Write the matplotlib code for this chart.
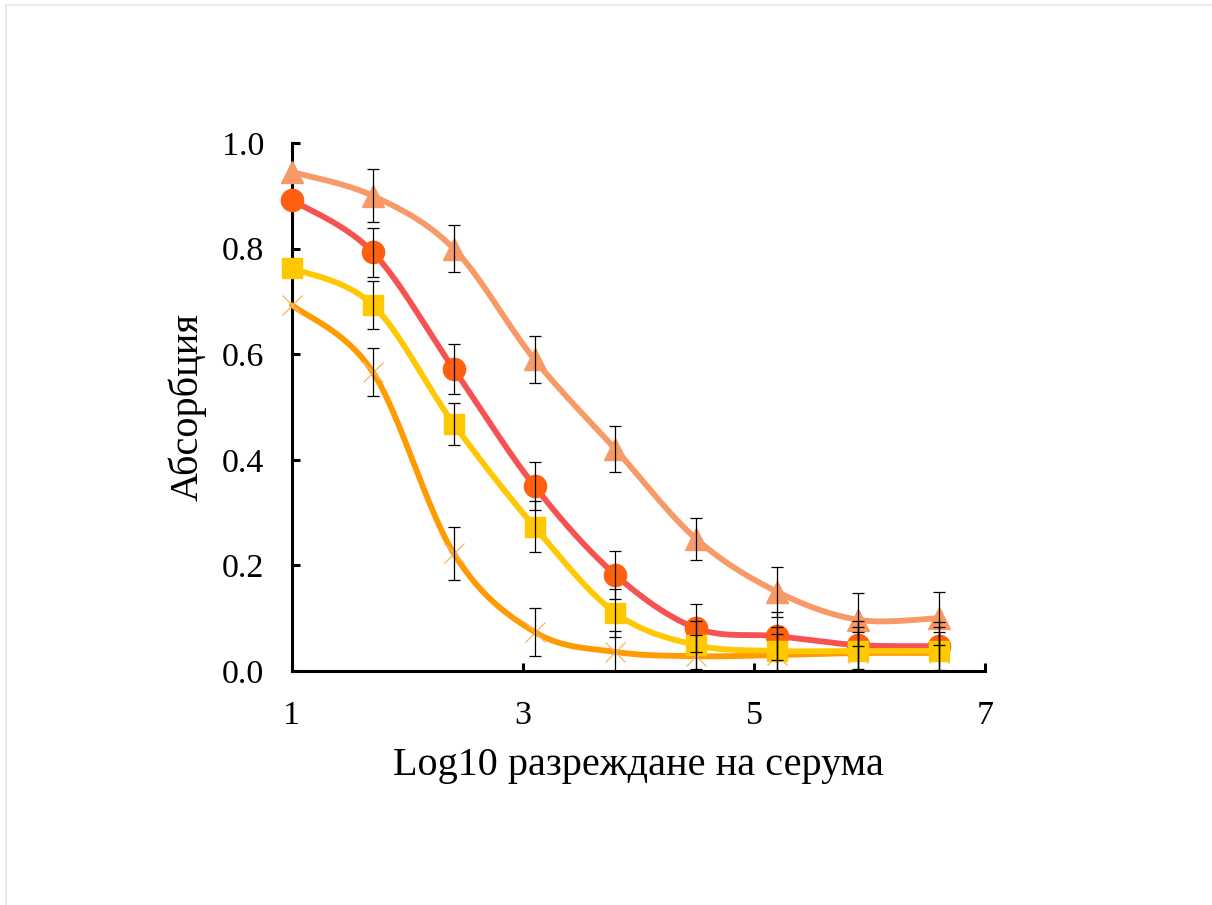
import numpy as np
import matplotlib.pyplot as plt
from matplotlib.lines import Line2D

plt.rcParams['font.family'] = ['Liberation Serif', 'DejaVu Serif']

# log10 of serum dilution (5-fold steps starting at 1:10)
log_dil = [1.0, 1.7, 2.4, 3.1, 3.8, 4.5, 5.2, 5.9, 6.6]

tri_y = [0.945, 0.900, 0.800, 0.590, 0.420, 0.250, 0.150, 0.097, 0.100]
tri_err = [0.000, 0.050, 0.045, 0.044, 0.044, 0.040, 0.047, 0.050, 0.050]

circ_y = [0.892, 0.793, 0.572, 0.350, 0.182, 0.081, 0.066, 0.049, 0.047]
circ_err = [0.000, 0.046, 0.048, 0.046, 0.045, 0.046, 0.045, 0.045, 0.045]

cross_y = [0.693, 0.566, 0.223, 0.074, 0.036, 0.028, 0.030, 0.034, 0.034]
cross_err = [0.000, 0.045, 0.050, 0.046, 0.040, 0.040, 0.040, 0.040, 0.040]

sq_y = [0.763, 0.693, 0.468, 0.273, 0.110, 0.049, 0.038, 0.038, 0.038]
sq_err = [0.000, 0.046, 0.040, 0.048, 0.045, 0.045, 0.045, 0.045, 0.045]


def smooth(x, y, n=30):
    # Catmull-Rom style bezier through the points (like a "smoothed line")
    x = np.asarray(x, float)
    y = np.asarray(y, float)
    p = np.column_stack([x, y])
    p = np.vstack([p[0], p, p[-1]])
    out = []
    t = np.linspace(0, 1, n)[:, None]
    for i in range(1, len(p) - 2):
        p0, p1, p2, p3 = p[i - 1], p[i], p[i + 1], p[i + 2]
        c1 = p1 + (p2 - p0) / 6
        c2 = p2 - (p3 - p1) / 6
        seg = ((1 - t) ** 3) * p1 + 3 * ((1 - t) ** 2) * t * c1 + 3 * (1 - t) * t ** 2 * c2 + t ** 3 * p2
        out.append(seg if i == 1 else seg[1:])
    out = np.vstack(out)
    return out[:, 0], out[:, 1]


fig = plt.figure(figsize=(12.12, 9.05), dpi=100)
ax = fig.add_axes([0.2409, 0.2586, 0.5718, 0.5834])

series = [
    (tri_y, tri_err, '#F79A68', '#F79A68', '^', 16.5, 2),
    (circ_y, circ_err, '#F75252', '#FF6010', 'o', 16, 3),
    (cross_y, cross_err, '#FF9A00', '#F8B870', 'x', 15, 4),
    (sq_y, sq_err, '#FFC800', '#FFC800', 's', 15, 5),
]

for y, err, lc, mc, mk, ms, z in series:
    sx, sy = smooth(log_dil, y)
    ax.plot(sx, sy, color=lc, lw=4.2, zorder=z, solid_capstyle='round', clip_on=False)
    if mk == 'x':
        ax.plot(log_dil, y, ls='none', marker=mk, ms=ms, mew=1.0, color=mc, zorder=z, clip_on=False)
    else:
        ax.plot(log_dil, y, ls='none', marker=mk, ms=ms, color=mc, mec=mc, zorder=z, clip_on=False)
    e = np.array(err)
    ax.errorbar(log_dil[1:], y[1:], yerr=e[1:], fmt='none', ecolor='black',
                elinewidth=0.9, capsize=4, capthick=0.9, zorder=10)

ax.set_xlim(1, 7)
ax.set_ylim(0, 1.0)
ax.set_xticks([1, 3, 5, 7])
ax.set_yticks(np.arange(0, 1.01, 0.2))
ax.set_yticklabels([f'{v:.1f}' for v in np.arange(0, 1.01, 0.2)])

for s in ['top', 'right']:
    ax.spines[s].set_visible(False)
for s in ['left', 'bottom']:
    ax.spines[s].set_linewidth(2.2)
    ax.spines[s].set_zorder(1)

ax.tick_params(axis='both', direction='in', length=6, width=2.2, labelsize=24.5)
ax.tick_params(axis='y', pad=20)
ax.tick_params(axis='x', pad=21)

ax.set_xlabel('Log10 разреждане на серума', fontsize=29, labelpad=12)
ax.set_ylabel('Абсорбция', fontsize=29, labelpad=11)

# faint frame lines at the top and left edge
fig.add_artist(Line2D([0.005, 1.0], [0.9945, 0.9945], color='#e8e8e8', lw=1.2))
fig.add_artist(Line2D([0.005, 0.005], [0.0, 0.9945], color='#e8e8e8', lw=1.2))

fig.savefig('out.png', dpi=100)
